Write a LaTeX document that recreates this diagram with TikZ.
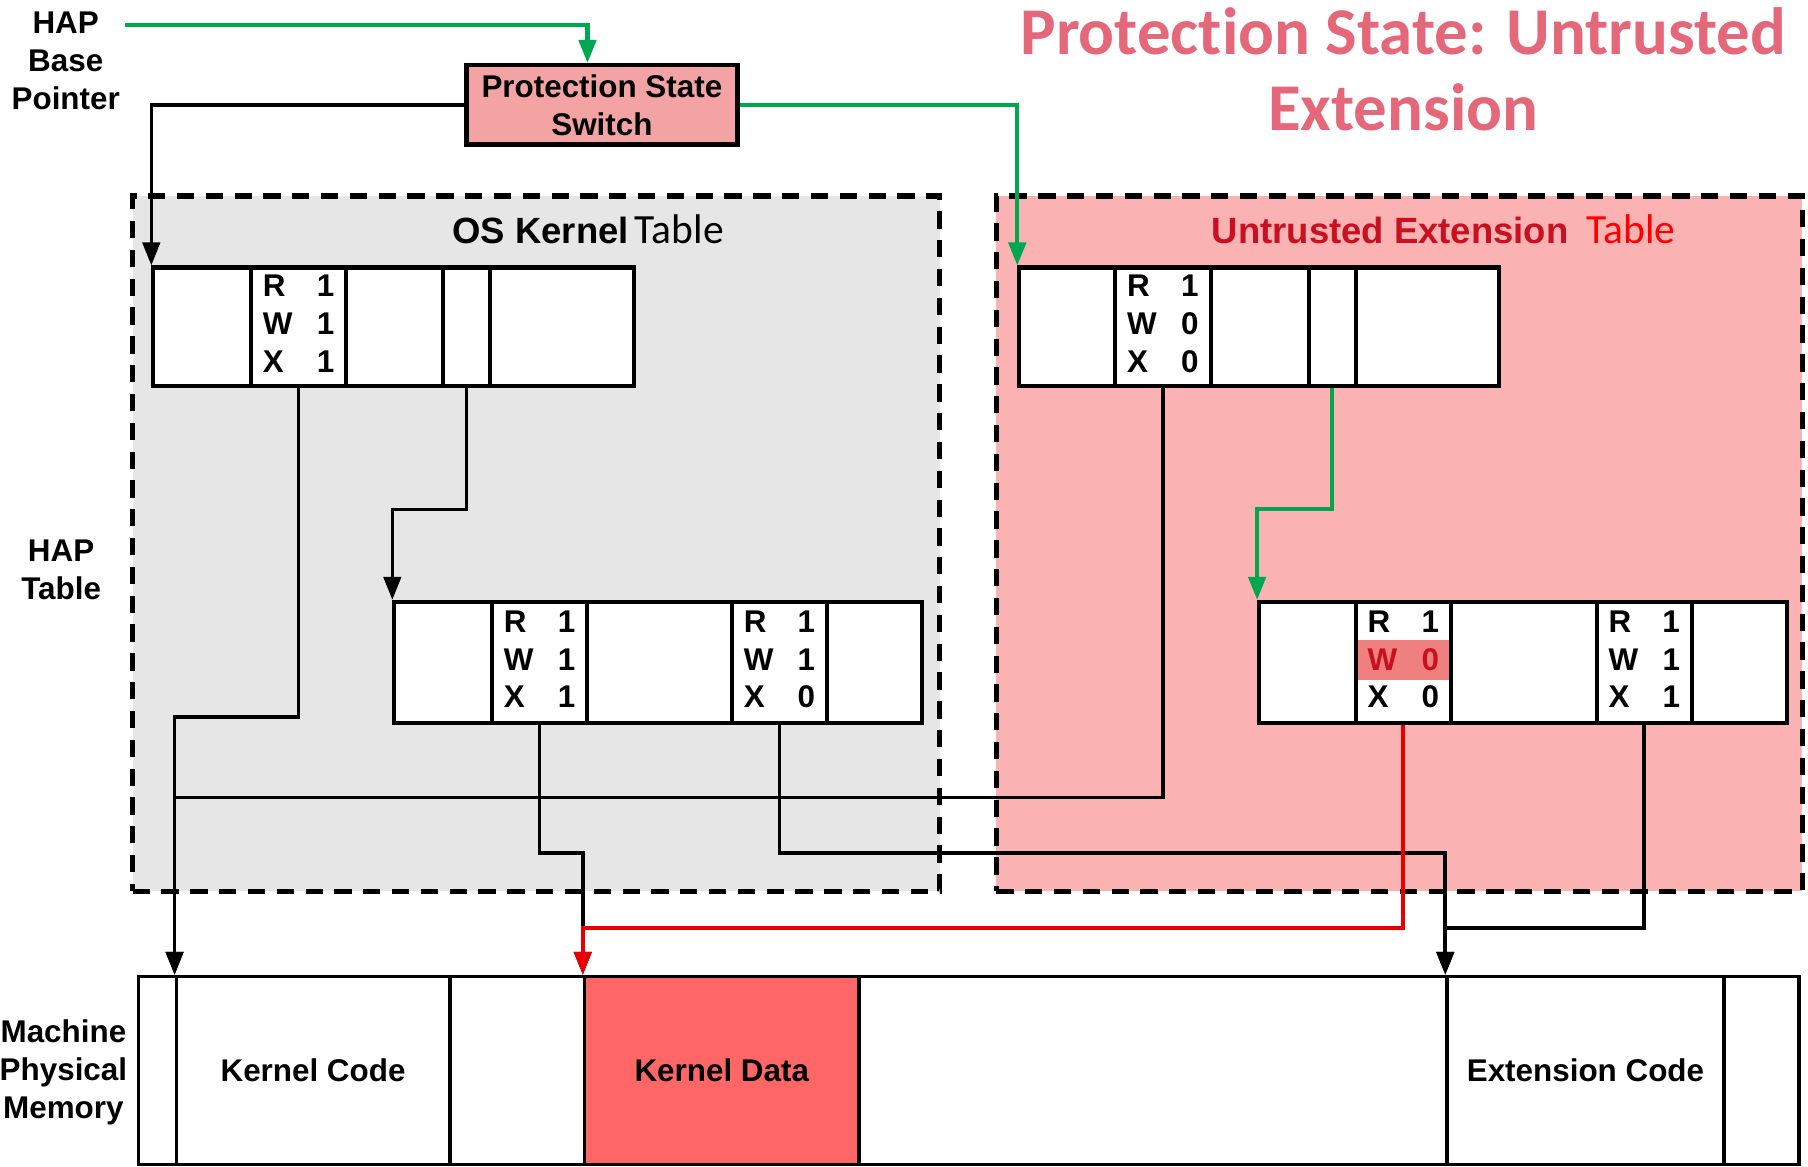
\documentclass[tikz,border=0pt]{standalone}
\usepackage{fontspec}
\setmainfont{Liberation Sans}
\newfontfamily\calib{Carlito}[Ligatures=NoCommon]
\usetikzlibrary{arrows.meta,fit,positioning}

\definecolor{osgray}{RGB}{230,230,230}
\definecolor{uepink}{RGB}{250,178,178}
\definecolor{pssfill}{RGB}{243,163,163}
\definecolor{kdata}{RGB}{255,102,102}
\definecolor{wfill}{RGB}{240,128,128}
\definecolor{ttlcol}{RGB}{228,104,122}
\definecolor{uetext}{RGB}{200,16,32}
\definecolor{hapgreen}{RGB}{0,166,80}
\definecolor{faultred}{RGB}{232,0,0}

\newcommand{\tblfont}{\calib\mdseries\fontsize{20.5pt}{24pt}\selectfont}
\newcommand{\rwxbits}[4][black]{%
  \begin{tabular}{@{}l@{\hspace{12pt}}r@{}}
    R & #2\\
    \textcolor{#1}{W} & \textcolor{#1}{#3}\\
    X & #4
  \end{tabular}}

\begin{document}
\begin{tikzpicture}[x=0.02cm,y=-0.02cm]
  \tikzstyle{every node}=[font=\bfseries\fontsize{15.5pt}{18.7pt}\selectfont]
  \tikzstyle{cell}=[draw,line width=2pt,fill=white,inner sep=0pt]
  \tikzstyle{memcell}=[draw,line width=1.8pt,inner sep=0pt]
  \tikzstyle{region}=[draw,line width=2.6pt,dash pattern=on 0.3cm off 0.2cm,inner sep=0pt]
  \tikzstyle{link}=[line width=1.8pt,-{Triangle[length=0.4cm,width=0.3cm]}]
  \tikzstyle{glink}=[link,draw=hapgreen,line width=2pt]
  \tikzstyle{rlink}=[link,draw=faultred,line width=2pt]

  \useasboundingbox (0,0) rectangle (1568,1012);

  % labels and title
  \node[align=center] (hapbase) at (57,53)  {HAP\\Base\\Pointer};
  \node[align=center] (haptbl)  at (53,494) {HAP\\Table};
  \node[align=center] (mpm)     at (55,930) {Machine\\Physical\\Memory};
  \node[align=center,text=ttlcol,font=\calib\bfseries\fontsize{33pt}{37.5pt}\selectfont]
    (ttl) at (1217,60) {Protection State: Untrusted\\Extension};
  \coordinate (happtr) at (108,22);

  \node[draw,line width=2.2pt,fill=pssfill,minimum width=4.7cm,minimum height=1.38cm,align=center]
    (pss) at (522,91) {Protection State\\Switch};

  % the two tables
  \node[region,fill=osgray,fit={(115,170) (815,773)}] (osreg) {};
  \node[region,fill=uepink,fit={(864,170) (1563,773)}] (uereg) {};
  \node[font=\bfseries\fontsize{18pt}{21pt}\selectfont] (oslbl) at (510,199)
    {OS Kernel\,{\tblfont Table}};
  \node[font=\bfseries\fontsize{18pt}{21pt}\selectfont] (uelbl) at (1252,199)
    {\textcolor{uetext}{Untrusted Extension}\hspace{9pt}{\tblfont\color{red}Table}};

  \foreach \id/\xa/\xb in {1/133/218, 2/218/300, 3/300/384, 4/384/425, 5/425/550}
    \node[cell,fit={(\xa,232) (\xb,335)}] (osa_\id) {};
  \foreach \id/\xa/\xb in {1/342/427, 2/427/509, 3/509/635, 4/635/717, 5/717/800}
    \node[cell,fit={(\xa,522) (\xb,627)}] (osb_\id) {};
  \foreach \id/\xa/\xb in {1/884/967, 2/967/1050, 3/1050/1135, 4/1135/1176, 5/1176/1300}
    \node[cell,fit={(\xa,232) (\xb,335)}] (uea_\id) {};
  \foreach \id/\xa/\xb in {1/1092/1176, 2/1176/1258, 3/1258/1385, 4/1385/1467, 5/1467/1550}
    \node[cell,fit={(\xa,522) (\xb,627)}] (ueb_\id) {};

  \fill[wfill] (1177.5,555) rectangle (1256.5,590);

  \node (osa_2t) at (osa_2.center) {\rwxbits{1}{1}{1}};
  \node (osb_2t) at (osb_2.center) {\rwxbits{1}{1}{1}};
  \node (osb_4t) at (osb_4.center) {\rwxbits{1}{1}{0}};
  \node (uea_2t) at (uea_2.center) {\rwxbits{1}{0}{0}};
  \node (ueb_2t) at (ueb_2.center) {\rwxbits[uetext]{1}{0}{0}};
  \node (ueb_4t) at (ueb_4.center) {\rwxbits{1}{1}{1}};

  % machine memory
  \foreach \id/\xa/\xb/\col in {1/120/153/white, 2/153/390/white, 3/390/507/white,
      4/507/745/kdata, 5/745/1255/white, 6/1255/1495/white, 7/1495/1560/white}
    \node[memcell,fill=\col,fit={(\xa,847) (\xb,1010)}] (mem_\id) {};
  \node (mem_2t) at (mem_2.center) {Kernel Code};
  \node (mem_4t) at (mem_4.center) {Kernel Data};
  \node (mem_6t) at (mem_6.center) {Extension Code};

  % pointers
  \draw[glink] (happtr) -| ([xshift=-0.25cm]pss.north);
  \draw[link]  (pss.west) -| (osa_1.north west);
  \draw[glink] (pss.east) -| (uea_1.north west);

  \draw[link]  (osa_2.south) -- ++(0,285) -| (mem_2.north west);
  \draw[link]  (osa_4.south) -- ++(0,105) -| (osb_1.north west);
  \draw[link]  (osb_2.south) -- ++(0,111) -| (mem_4.north west);
  \draw[link]  (osb_4.south) -- ++(0,111) -| (mem_6.north west);
  \draw[link]  (uea_2.south) -- ++(0,355) -| (mem_2.north west);
  \draw[glink] (uea_4.south) -- ++(0,105) -| (ueb_1.north west);
  \draw[link]  (ueb_4.south) -- ++(0,176) -| (mem_6.north west);
  \draw[rlink] (ueb_2.south) -- ++(0,176) -| (mem_4.north west);
\end{tikzpicture}
\end{document}
